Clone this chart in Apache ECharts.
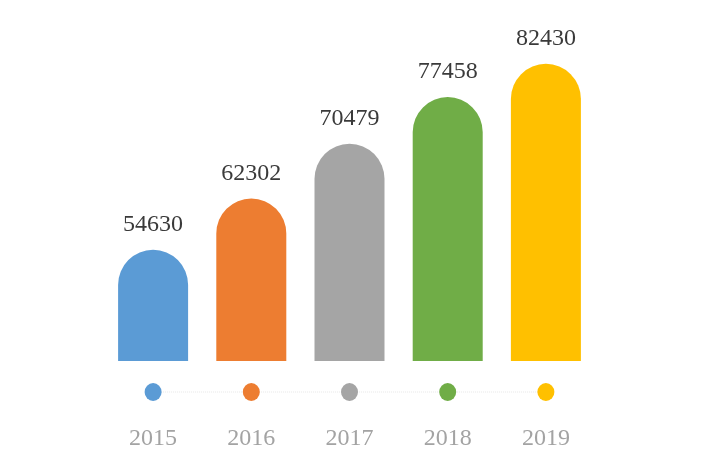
<!DOCTYPE html>
<html>
<head>
<meta charset="utf-8">
<script src="https://cdn.jsdelivr.net/npm/echarts@6/dist/echarts.min.js"></script>
<style>html,body{margin:0;padding:0;background:#fff}#c{width:713px;height:474px}</style>
</head>
<body>
<div id="c"></div>
<script>
const years = ['2015', '2016', '2017', '2018', '2019'];
const values = [54630, 62302, 70479, 77458, 82430];
const dotLevel = [0, 0, 0, 0, 0];
const colors = ['#5b9bd5', '#ed7d31', '#a5a5a5', '#70ad47', '#ffc000'];
const Y_MIN = 38000;
const Y_MAX = 86000;

const chart = echarts.init(document.getElementById('c'));
chart.setOption({
  backgroundColor: '#fff',
  animation: false,
  grid: [
    { left: 104, right: 118, top: 40, bottom: 113 },
    { left: 104, right: 118, top: 392, height: 0 }
  ],
  xAxis: [
    { type: 'category', data: years, gridIndex: 0, axisLine: { show: false }, axisTick: { show: false }, axisLabel: { show: false } },
    { type: 'category', data: years, gridIndex: 1, axisLine: { show: false }, axisTick: { show: false },
      axisLabel: { margin: 35, fontFamily: 'Liberation Serif', fontSize: 24, color: '#a3a3a3' } }
  ],
  yAxis: [
    { type: 'value', min: Y_MIN, max: Y_MAX, gridIndex: 0, show: false },
    { type: 'value', min: 0, max: 1, gridIndex: 1, show: false }
  ],
  series: [
    {
      type: 'bar', xAxisIndex: 0, yAxisIndex: 0, barWidth: 70,
      data: values.map((v, i) => ({ value: v, itemStyle: { color: colors[i], borderRadius: [35, 35, 0, 0] } })),
      label: { show: true, position: 'top', distance: 13, fontFamily: 'Liberation Serif', fontSize: 24, color: '#3a3a3a' }
    },
    {
      type: 'line', xAxisIndex: 1, yAxisIndex: 1,
      data: dotLevel.map((v, i) => ({ value: v, itemStyle: { color: colors[i] } })),
      symbol: 'circle', symbolSize: [17, 18],
      lineStyle: { color: '#d0d0d0', width: 1, type: 'dotted' }
    }
  ]
});
</script>
</body>
</html>
